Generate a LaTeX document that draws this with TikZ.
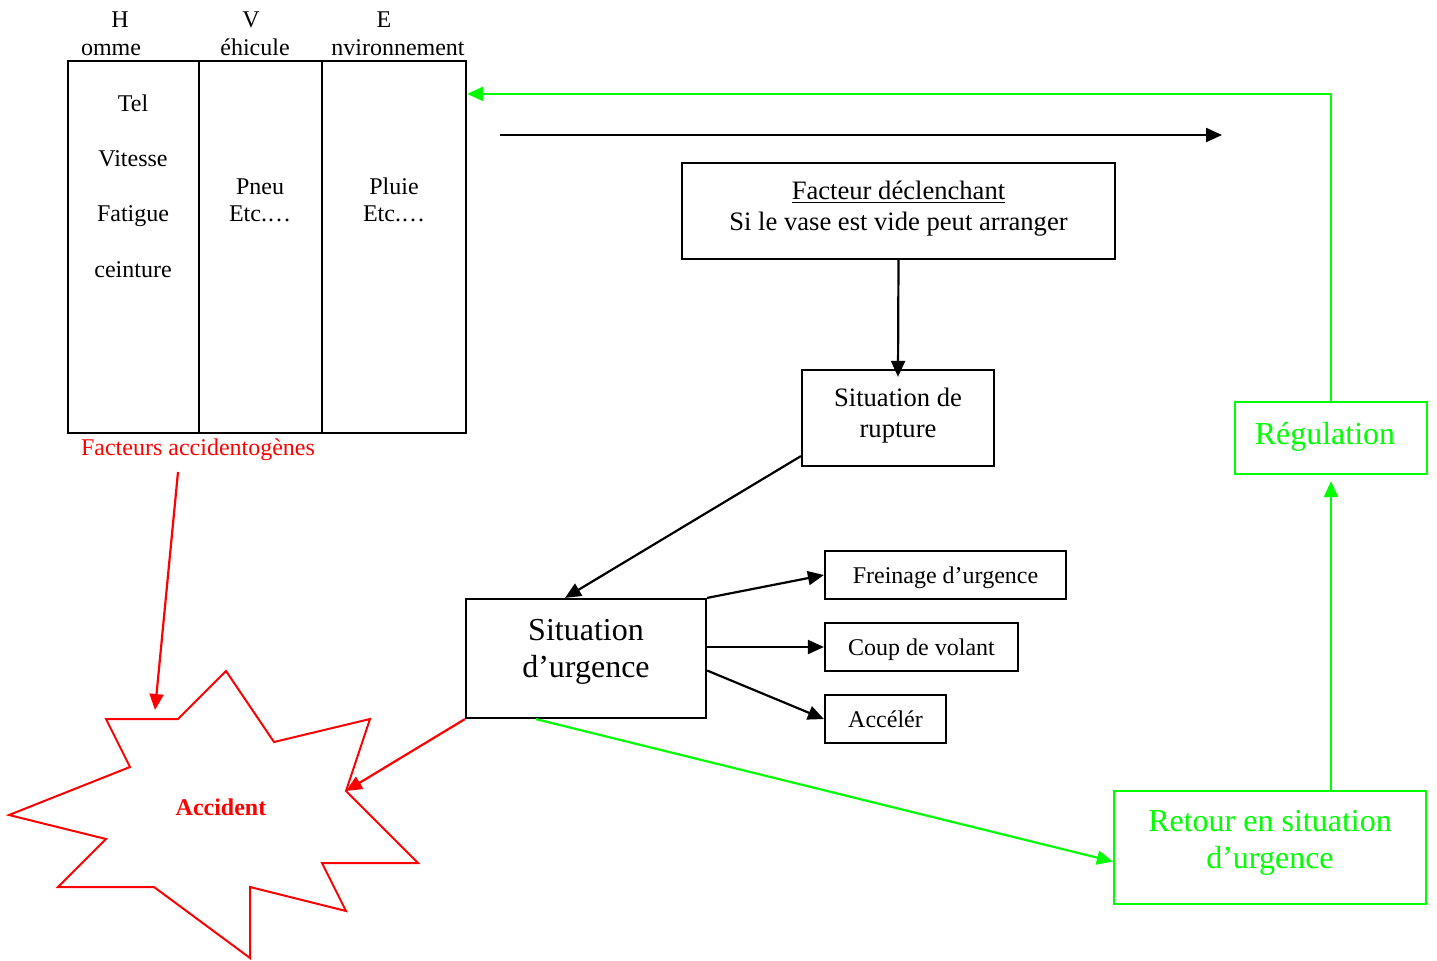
\documentclass[tikz,border=0pt]{standalone}
\usepackage{fontspec}
\setmainfont{Liberation Serif}
\usetikzlibrary{arrows.meta,calc}
\definecolor{grn}{RGB}{0,255,0}
\definecolor{rd}{RGB}{255,0,0}
\begin{document}
\begin{tikzpicture}[x=0.5pt,y=-0.5pt,
  every node/.style={font=\fontsize{12}{15.5}\selectfont, inner sep=0pt},
  box/.style={draw, line width=1.1pt, rectangle, inner sep=0pt},
  sbox/.style={box, text height=11pt, text depth=2.5pt},
  gbox/.style={draw=grn, line width=1.1pt, rectangle, inner sep=0pt},
  arr/.style={line width=1.1pt, -{Triangle[length=8pt,width=7pt]}},
  big/.style={font=\fontsize{16}{18.5}\selectfont},
  mid/.style={font=\fontsize{13.3}{15.5}\selectfont}]
\useasboundingbox (0,0) rectangle (1437,960);

% table
\node[box, minimum width=65.5pt, minimum height=186pt] (col1) at (133.5,247) {};
\node[box, minimum width=61.5pt, minimum height=186pt] (col2) at (260.5,247) {};
\node[box, minimum width=72pt, minimum height=186pt] (col3) at (394,247) {};
\node[anchor=base] (hH) at (120,27) {H};
\node[anchor=base] (hH2) at (111,55) {omme};
\node[anchor=base] (hV) at (251,27) {V};
\node[anchor=base] (hV2) at (255,55) {éhicule};
\node[anchor=base] (hE) at (384,27) {E};
\node[anchor=base] (hE2) at (398,55) {nvironnement};
\node[anchor=base] (t1) at (133,111) {Tel};
\node[anchor=base] (t2) at (133,166) {Vitesse};
\node[anchor=base] (t3) at (133,221) {Fatigue};
\node[anchor=base] (t4) at (133,277) {ceinture};
\node[anchor=base] (t5a) at (260,194) {Pneu};
\node[anchor=base] (t5b) at (260,221) {Etc.…};
\node[anchor=base] (t6a) at (394,194) {Pluie};
\node[anchor=base] (t6b) at (394,221) {Etc.…};
\node[text=rd] (fa) at (198,450) {Facteurs accidentogènes};

% top arrow
\coordinate (ta) at (500,135);
\coordinate (tb) at (1222,135);
\draw[arr] (ta) -- (tb);

% boxes
\node[box, minimum width=216.5pt, minimum height=48pt] (fac) at (898.5,211) {};
\node[mid, align=center] (factxt) at (898.5,208.5) {\underline{Facteur déclenchant}\\Si le vase est vide peut arranger};
\node[box, minimum width=96pt, minimum height=48pt] (rup) at (898,418) {};
\node[mid, align=center] (ruptxt) at (898,416) {Situation de\\rupture};
\node[box, minimum width=120pt, minimum height=59.5pt] (su) at (586,658.5) {};
\node[big, align=center] (sutxt) at (586,652) {Situation\\d’urgence};
\node[sbox, minimum width=120.5pt, minimum height=24pt] (fr) at (945.5,575) {Freinage d’urgence};
\node[sbox, minimum width=96.5pt, minimum height=24pt] (cv) at (921.5,647) {Coup de volant};
\node[sbox, minimum width=60.5pt, minimum height=24pt] (ac) at (885.5,719) {Accélér};
\node[gbox, minimum width=156pt, minimum height=56.5pt] (ret) at (1270,847.5) {};
\node[big, align=center, text=grn] (rettxt) at (1270,843) {Retour en situation\\d’urgence};
\node[gbox, minimum width=96pt, minimum height=36pt] (reg) at (1331,438) {};
\node[big, text=grn] (regtxt) at (1325,437) {Régulation};

% star
\coordinate (s1) at (106,719);
\coordinate (s2) at (178,719);
\coordinate (s3) at (226,671);
\coordinate (s4) at (274,742);
\coordinate (s5) at (370,719);
\coordinate (s6) at (346,791);
\coordinate (s7) at (418,863);
\coordinate (s8) at (322,863);
\coordinate (s9) at (346,911);
\coordinate (s10) at (250,887);
\coordinate (s11) at (250,958);
\coordinate (s12) at (154,887);
\coordinate (s13) at (58,887);
\coordinate (s14) at (106,839);
\coordinate (s15) at (9,815);
\coordinate (s16) at (130,767);
\draw[rd, line width=1pt, line join=miter] (s1) -- (s2) -- (s3) -- (s4) -- (s5) -- (s6) -- (s7) -- (s8) -- (s9) -- (s10) -- (s11) -- (s12) -- (s13) -- (s14) -- (s15) -- (s16) -- cycle;
\node[text=rd, font=\fontsize{12}{14}\selectfont\bfseries] (acc) at (221,807) {Accident};

% connectors
\draw[arr] (fac.south) -- ([yshift=-4pt]rup.north);
\draw[arr] ($(rup.south west)+(0,-11)$) -- ($(su.north)+(-21,0)$);
\draw[arr] (su.north east) -- (fr.west);
\draw[arr] (su.east |- cv.west) -- (cv.west);
\draw[arr] ($(su.east)+(0,12)$) -- (ac.west);

\coordinate (r1) at (178,472);
\coordinate (r2) at (155,710);
\draw[arr, rd] (r1) -- (r2);
\draw[arr, rd] (su.south west) -- (s6);

\draw[arr, grn] ($(su.south west)+(71,0)$) -- ($(ret.west)+(0,14)$);
\draw[arr, grn] (ret.north -| reg.south) -- ([yshift=-3pt]reg.south);
\draw[arr, grn] (reg.north) |- ($(col3.north east)+(0,34)$);
\end{tikzpicture}
\end{document}
